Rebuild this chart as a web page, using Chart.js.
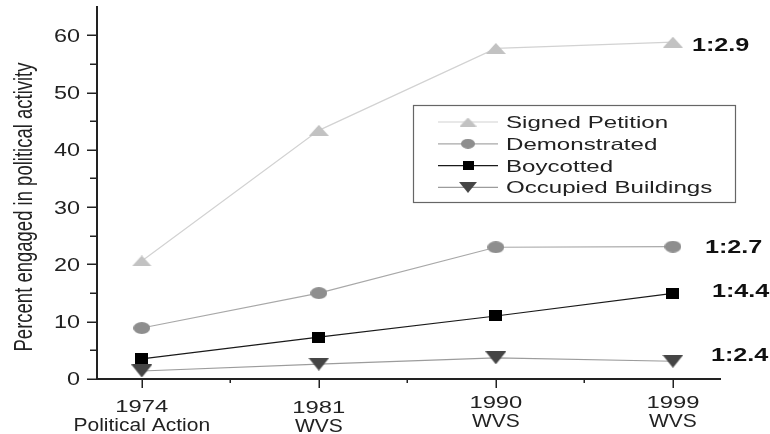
<!DOCTYPE html>
<html>
<head>
<meta charset="utf-8">
<script src="https://cdn.jsdelivr.net/npm/chart.js@4/dist/chart.umd.min.js"></script>
<style>
  html, body { margin: 0; padding: 0; background: #fff; }
  #wrap { width: 770px; height: 434px; position: relative; }
</style>
</head>
<body>
<div id="wrap"><canvas id="chart"></canvas></div>
<script>
// data
const years = ['1974', '1981', '1990', '1999']
const sources = ['Political Action', 'WVS', 'WVS', 'WVS']
const seriesNames = ['Signed Petition', 'Demonstrated', 'Boycotted', 'Occupied Buildings']
const petition = [20.6, 43.4, 57.7, 58.8]
const demonstrated = [8.9, 15.0, 23.0, 23.1]
const boycotted = [3.5, 7.3, 11.0, 14.95]
const occupied = [1.4, 2.6, 3.7, 3.1]
const ratios = ['1:2.9', '1:2.7', '1:4.4', '1:2.4']
const yTicks = [0, 10, 20, 30, 40, 50, 60]

const FONT = '"Liberation Sans", Arial, sans-serif'
const INK = '#222'

// look of each series (the picture is stretched sideways, so the marks are wide)
const styles = [
  {line: '#d2d2d2', fill: '#c2c2c2', shape: 'triangle', w: 20, h: 11},
  {line: '#a8a8a8', fill: '#8e8e8e', shape: 'circle', w: 17, h: 12},
  {line: '#1a1a1a', fill: '#000000', shape: 'rect', w: 13, h: 11},
  {line: '#9c9c9c', fill: '#454545', shape: 'down', w: 21, h: 13},
]
// where each ratio text sits relative to the last point
const ratioOffset = [[19, 2], [32, 0], [39, -3], [38, -7]]
// small vertical drift of the two-line category labels
const catDy = [2, 3, -2, -2]

function makeMarker(s, k) {
  const w = Math.round(s.w * k), h = Math.round(s.h * k)
  const c = document.createElement('canvas')
  c.width = w; c.height = h
  const g = c.getContext('2d')
  g.fillStyle = s.fill
  g.beginPath()
  if (s.shape === 'circle') {
    g.ellipse(w / 2, h / 2, w / 2, h / 2, 0, 0, Math.PI * 2)
  } else if (s.shape === 'rect') {
    g.rect(0, 0, w, h)
  } else if (s.shape === 'triangle') {
    g.moveTo(w / 2, 0); g.lineTo(w, h); g.lineTo(0, h); g.closePath()
  } else {
    g.moveTo(0, 0); g.lineTo(w, 0); g.lineTo(w / 2, h); g.closePath()
  }
  g.fill()
  return c
}
const plotMarks = styles.map(s => makeMarker(s, 1))
const legendMarks = styles.map(s => makeMarker(s, 0.85))

const values = [petition, demonstrated, boycotted, occupied]
const datasets = values.map((vals, i) => ({
  label: seriesNames[i],
  data: vals.map((v, j) => ({x: j, y: v})),
  borderColor: styles[i].line,
  borderWidth: 1.2,
  backgroundColor: styles[i].fill,
  pointStyle: plotMarks[i],
  pointRadius: 6,
  tension: 0,
}))

function stretchText(ctx, txt, x, y, font, sx, align) {
  ctx.save()
  ctx.font = font
  ctx.translate(x, y)
  ctx.scale(sx, 1)
  ctx.textAlign = align
  ctx.textBaseline = 'alphabetic'
  ctx.fillText(txt, 0, 0)
  ctx.restore()
}

// axis ticks and labels, placed with the chart's own scales
const axisText = {
  id: 'axisText',
  afterDraw(chart) {
    const ctx = chart.ctx
    const xs = chart.scales.x, ys = chart.scales.y
    const area = chart.chartArea
    ctx.save()
    ctx.strokeStyle = INK
    ctx.lineWidth = 1.5
    ctx.fillStyle = INK
    ys.ticks.forEach(t => {
      const y = Math.round(ys.getPixelForValue(t.value)) + 0.25
      const len = t.value % 10 === 0 ? 10 : 7
      ctx.beginPath(); ctx.moveTo(area.left - len, y); ctx.lineTo(area.left, y); ctx.stroke()
    })
    xs.ticks.forEach(t => {
      const x = Math.round(xs.getPixelForValue(t.value)) + 0.25
      const len = Number.isInteger(t.value) ? 9 : 4
      ctx.beginPath(); ctx.moveTo(x, area.bottom); ctx.lineTo(x, area.bottom + len); ctx.stroke()
    })
    yTicks.forEach(v => {
      stretchText(ctx, String(v), 80, ys.getPixelForValue(v) + 6.4, '18px ' + FONT, 1.3, 'right')
    })
    years.forEach((yr, i) => {
      const x = xs.getPixelForValue(i)
      stretchText(ctx, yr, x, area.bottom + 31 + catDy[i], '17px ' + FONT, 1.4, 'center')
      stretchText(ctx, sources[i], x, area.bottom + 50 + catDy[i], '17.5px ' + FONT, 1.2, 'center')
    })
    // rotated axis title
    ctx.translate(32, 207)
    ctx.rotate(-Math.PI / 2)
    ctx.scale(1, 1.4)
    ctx.font = '18.5px "Liberation Sans Narrow", "Arial Narrow", ' + FONT
    ctx.textAlign = 'center'
    ctx.textBaseline = 'alphabetic'
    ctx.fillText('Percent engaged in political activity', 0, 0)
    ctx.restore()
  }
}

const legendBox = {
  id: 'legendBox',
  afterDraw(chart) {
    const ctx = chart.ctx
    const x0 = 413, y0 = 105, w = 322, h = 97
    ctx.save()
    ctx.fillStyle = '#fff'
    ctx.fillRect(x0, y0, w, h)
    ctx.strokeStyle = '#666'
    ctx.lineWidth = 1.2
    ctx.strokeRect(x0 + 0.5, y0 + 0.5, w, h)
    seriesNames.forEach((name, i) => {
      const y = y0 + 17 + i * 21.8
      ctx.strokeStyle = styles[i].line
      ctx.lineWidth = 1.2
      ctx.beginPath(); ctx.moveTo(438, y); ctx.lineTo(498, y); ctx.stroke()
      const m = legendMarks[i]
      ctx.drawImage(m, 468 - m.width / 2, y - m.height / 2)
      ctx.fillStyle = INK
      stretchText(ctx, name, 506, y + 6, '16.5px ' + FONT, 1.46, 'left')
    })
    ctx.restore()
  }
}

const ratioLabels = {
  id: 'ratioLabels',
  afterDraw(chart) {
    const ctx = chart.ctx
    ctx.save()
    ctx.fillStyle = '#111'
    ratios.forEach((txt, i) => {
      const pts = chart.getDatasetMeta(i).data
      const p = pts[pts.length - 1]
      stretchText(ctx, txt, p.x + ratioOffset[i][0], p.y + ratioOffset[i][1] + 6.5, 'bold 18px ' + FONT, 1.4, 'left')
    })
    ctx.restore()
  }
}

new Chart(document.getElementById('chart'), {
  type: 'line',
  data: {datasets: datasets},
  plugins: [axisText, legendBox, ratioLabels],
  options: {
    responsive: true,
    maintainAspectRatio: false,
    animation: false,
    layout: {padding: {left: 0, right: 50, top: 7, bottom: 0}},
    plugins: {legend: {display: false}, tooltip: {enabled: false}},
    scales: {
      x: {
        type: 'linear',
        min: -0.253,
        max: 3.266,
        afterFit: s => { s.height = 55 },
        border: {display: true, color: INK, width: 2},
        grid: {display: false},
        ticks: {display: false, stepSize: 0.5, includeBounds: false, autoSkip: false}
      },
      y: {
        min: 0,
        max: 64.9,
        afterFit: s => { s.width = 97 },
        border: {display: true, color: INK, width: 2},
        grid: {display: false},
        ticks: {display: false, stepSize: 5, includeBounds: false}
      }
    }
  }
})
</script>
</body>
</html>
